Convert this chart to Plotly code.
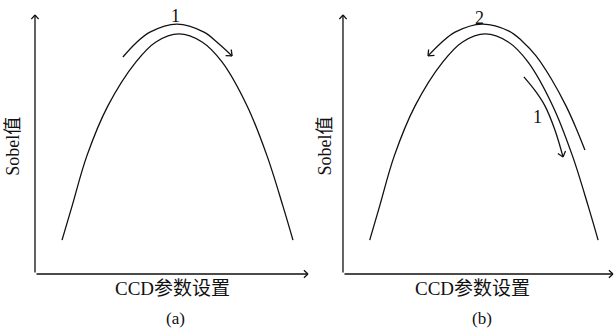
import math
import plotly.graph_objects as go

# ---- data (schematic units: axis origin = 0, axis arrow tip = 10) ----
curve_x = [0.99, 1.36, 1.90, 2.67, 3.70, 4.43, 5.27, 6.12, 6.85, 7.77, 8.50, 9.08, 9.45]
curve_y = [1.31, 2.63, 4.56, 6.49, 8.19, 8.96, 9.27, 8.96, 8.19, 6.49, 4.56, 2.63, 1.31]

# panel (a): search direction 1 over the peak
arc_a1_x = [3.22, 3.70, 4.21, 5.20, 6.19, 6.70, 7.22]
arc_a1_y = [8.38, 8.92, 9.34, 9.65, 9.34, 8.92, 8.42]

# panel (b): direction 1 down the right slope, then direction 2 back over the peak
arc_b1_x = [6.70, 7.15, 7.48, 7.85, 8.15]
arc_b1_y = [7.61, 7.03, 6.49, 5.56, 4.52]
arc_b2_x = [8.96, 8.63, 8.26, 7.74, 7.15, 6.63, 6.15, 5.15, 4.15, 3.63, 3.15]
arc_b2_y = [4.79, 5.64, 6.49, 7.49, 8.42, 9.00, 9.38, 9.65, 9.34, 8.92, 8.42]

labels_a = [("1", 5.13, 9.96)]
labels_b = [("2", 5.07, 9.88), ("1", 7.19, 6.06)]

x_title = "CCD参数设置"
y_title = "Sobel值"
panel_names = ["(a)", "(b)"]

INK = "#111111"
LW = 1.3
FONT = "Liberation Serif, Noto Sans CJK SC, serif"
W, H = 615, 329

dom_xa = [0.0569, 0.5008]
dom_xb = [0.5577, 0.9967]
dom_y = [0.1672, 0.9544]
RANGE = 10.0

def px_scale(dom, size):
    return (dom[1] - dom[0]) * size / RANGE

fig = go.Figure()

def line(x, y, xa, ya):
    fig.add_trace(go.Scatter(x=x, y=y, mode="lines", xaxis=xa, yaxis=ya,
                             line=dict(color=INK, width=LW, shape="spline", smoothing=1.0),
                             hoverinfo="skip"))

def chevron(tx, ty, ux, uy, xa, ya, L=8.0, half=40.0):
    # ux, uy: travel direction in screen pixels (y down)
    n = math.hypot(ux, uy)
    ux, uy = ux / n, uy / n
    for s in (+1, -1):
        a = math.radians(half) * s
        bx, by = -ux, -uy
        rx = bx * math.cos(a) - by * math.sin(a)
        ry = bx * math.sin(a) + by * math.cos(a)
        fig.add_annotation(x=tx, y=ty, xref=xa, yref=ya, ax=rx * L, ay=ry * L,
                           text="", showarrow=True, arrowhead=0,
                           arrowwidth=LW, arrowcolor=INK, standoff=0, startstandoff=0)

def arrow_head(x, y, xa, ya, dom_x):
    sx = px_scale(dom_x, W)
    sy = px_scale(dom_y, H)
    ux = (x[-1] - x[-2]) * sx
    uy = -(y[-1] - y[-2]) * sy
    chevron(x[-1], y[-1], ux, uy, xa, ya)

def axes_arrows(xa, ya):
    for tx, ty, ux, uy in [(RANGE, 0, 1, 0), (0, RANGE, 0, -1)]:
        fig.add_annotation(x=tx, y=ty, ax=0, ay=0, xref=xa, yref=ya, axref=xa, ayref=ya,
                           text="", showarrow=True, arrowhead=0,
                           arrowwidth=LW, arrowcolor=INK, standoff=0)
        chevron(tx, ty, ux, uy, xa, ya, L=7.5, half=42)

# panel (a)
line(curve_x, curve_y, "x", "y")
line(arc_a1_x, arc_a1_y, "x", "y")
arrow_head(arc_a1_x, arc_a1_y, "x", "y", dom_xa)
axes_arrows("x", "y")
for t, x, y in labels_a:
    fig.add_annotation(x=x, y=y, xref="x", yref="y", text=t, showarrow=False,
                       xanchor="center", yanchor="middle",
                       font=dict(family=FONT, size=18, color=INK))

# panel (b)
line(curve_x, curve_y, "x2", "y2")
line(arc_b1_x, arc_b1_y, "x2", "y2")
arrow_head(arc_b1_x, arc_b1_y, "x2", "y2", dom_xb)
line(arc_b2_x, arc_b2_y, "x2", "y2")
arrow_head(arc_b2_x, arc_b2_y, "x2", "y2", dom_xb)
axes_arrows("x2", "y2")
for t, x, y in labels_b:
    fig.add_annotation(x=x, y=y, xref="x2", yref="y2", text=t, showarrow=False,
                       xanchor="center", yanchor="middle",
                       font=dict(family=FONT, size=18, color=INK))

# titles
for cx, sx, px, name in [(0.2797, 0.021, 0.2846, panel_names[0]),
                         (0.7675, 0.528, 0.7837, panel_names[1])]:
    fig.add_annotation(x=cx, y=0.1216, xref="paper", yref="paper", text=x_title,
                       xanchor="center", yanchor="middle",
                       showarrow=False, font=dict(family=FONT, size=19, color=INK))
    fig.add_annotation(x=sx, y=0.557, xref="paper", yref="paper", text=y_title,
                       xanchor="center", yanchor="middle",
                       textangle=-90, showarrow=False, font=dict(family=FONT, size=18, color=INK))
    fig.add_annotation(x=px, y=0.0, xref="paper", yref="paper", text=name,
                       xanchor="center", yanchor="bottom", borderpad=0,
                       showarrow=False, font=dict(family=FONT, size=17, color=INK))

ax_common = dict(range=[0, RANGE], visible=False, fixedrange=True)
fig.update_layout(
    width=W, height=H,
    margin=dict(l=0, r=0, t=0, b=0),
    paper_bgcolor="white", plot_bgcolor="white",
    showlegend=False,
    xaxis=dict(domain=dom_xa, anchor="y", **ax_common),
    yaxis=dict(domain=dom_y, anchor="x", **ax_common),
    xaxis2=dict(domain=dom_xb, anchor="y2", **ax_common),
    yaxis2=dict(domain=dom_y, anchor="x2", **ax_common),
)

fig.write_html("out.html", config={"displayModeBar": False},
               post_script="document.body.style.margin='0';document.body.style.overflow='hidden';")
